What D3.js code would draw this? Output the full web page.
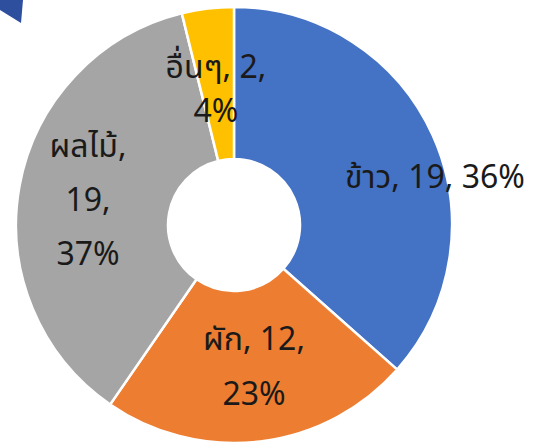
<!DOCTYPE html>
<html>
<head>
<meta charset="utf-8">
<script src="https://cdn.jsdelivr.net/npm/d3@7/dist/d3.min.js"></script>
<style>
  html, body { margin: 0; padding: 0; background: #fff; }
  svg { display: block; }
</style>
</head>
<body>
<svg id="chart" width="536" height="442"></svg>
<script>
// ---- data ----
const categories = ["ข้าว", "ผัก", "ผลไม้", "อื่นๆ"];
const values = [19, 12, 19, 2];
const percentLabels = ["36%", "23%", "37%", "4%"];
const colors = ["#4472C4", "#ED7D31", "#A5A5A5", "#FFC000"];

// label line layout (text lines per slice)
const labelLines = [
  [categories[0] + ", " + values[0] + ", " + percentLabels[0]],
  [categories[1] + ", " + values[1] + ",", percentLabels[1]],
  [categories[2] + ",", values[2] + ",", percentLabels[2]],
  [categories[3] + ", " + values[3] + ",", percentLabels[3]]
];
// label anchor (center x, first baseline y, line step)
const labelLayout = [
  {x: 435, y: 188, step: 0},
  {x: 254, y: 350, step: 55},
  {x: 88, y: 157, step: 54},
  {x: 216, y: 78, step: 44}
];

const svg = d3.select("#chart");
const cx = 234, cy = 225, outerR = 218, innerR = 66;

// decorative corner shape
svg.append("path")
  .attr("d", "M0,0 L23,0 L21,23 L0,10 Z")
  .attr("fill", "#2E4F9E");

const pie = d3.pie().sort(null).value(d => d)(values);
const arc = d3.arc().innerRadius(innerR).outerRadius(outerR);

const g = svg.append("g").attr("transform", `translate(${cx},${cy})`);
g.selectAll("path.slice")
  .data(pie)
  .join("path")
  .attr("class", "slice")
  .attr("d", arc)
  .attr("fill", (d, i) => colors[i])
  .attr("stroke", "#fff")
  .attr("stroke-width", 2.5);

const fontFamily = "'Noto Sans', 'Noto Sans Thai', Tahoma, 'DejaVu Sans', sans-serif";
labelLines.forEach((lines, i) => {
  const L = labelLayout[i];
  const t = svg.append("text")
    .attr("text-anchor", "middle")
    .attr("font-family", fontFamily)
    .attr("font-size", 32)
    .attr("fill", "#1a1a1a");
  lines.forEach((ln, j) => {
    t.append("tspan")
      .attr("x", L.x)
      .attr("y", L.y + j * L.step)
      .text(ln);
  });
});
</script>
</body>
</html>
